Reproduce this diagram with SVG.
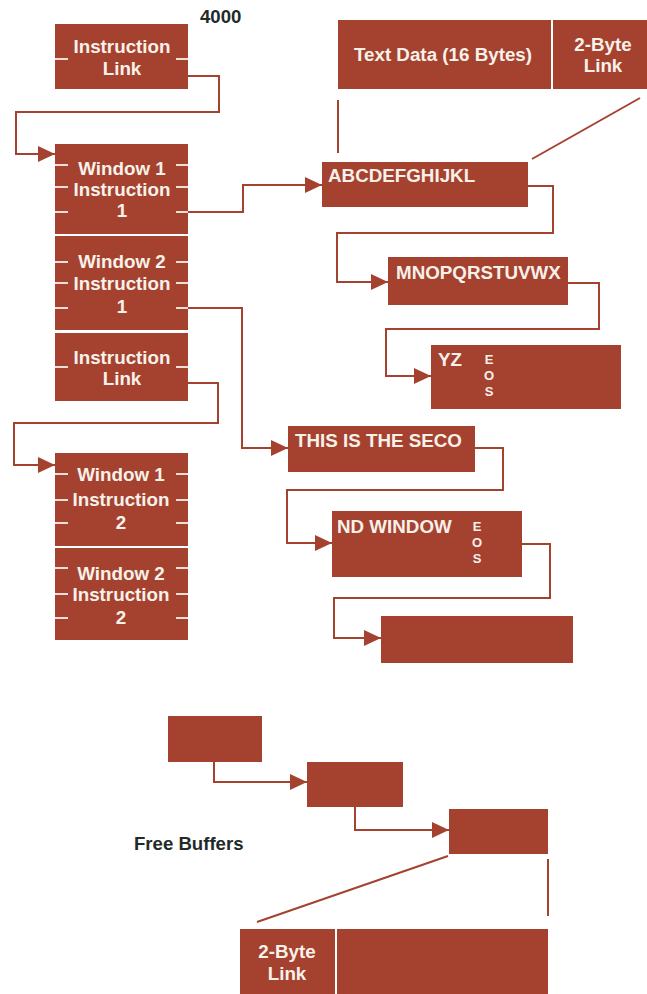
<svg xmlns="http://www.w3.org/2000/svg" width="647" height="994" viewBox="0 0 647 994">
<style>
.box{fill:#a5422f}
.t{font-family:"Liberation Sans",Arial,sans-serif;font-weight:bold;font-size:18.8px;fill:#f7f1ea}
.c{text-anchor:middle}
.eos{font-family:"Liberation Sans",Arial,sans-serif;font-weight:bold;font-size:13px;fill:#f7f1ea;text-anchor:middle}
.dark{font-family:"Liberation Sans",Arial,sans-serif;font-weight:bold;font-size:18.6px;fill:#1f2a2a}
.tick{stroke:#f7f1ea;stroke-width:1.8}
.ln{fill:none;stroke:#a5422f;stroke-width:2}
</style>
<defs>
<marker id="ah" markerUnits="userSpaceOnUse" markerWidth="18" markerHeight="18" refX="17" refY="8" orient="auto">
<path d="M0,0 L17,8 L0,16 Z" fill="#a5422f"/>
</marker>
</defs>
<rect width="647" height="994" fill="#ffffff"/>
<text class="dark" x="200" y="23">4000</text>
<g id="instr-link-1">
<rect class="box" x="55" y="24" width="133" height="65"/>
<line class="tick" x1="55" y1="59" x2="68" y2="59"/><line class="tick" x1="176" y1="59" x2="188" y2="59"/>
<text class="t c" x="122" y="53">Instruction</text>
<text class="t c" x="122" y="75">Link</text>
</g>
<g id="w1i1">
<rect class="box" x="55" y="144" width="133" height="90"/>
<line class="tick" x1="55" y1="165" x2="68" y2="165"/><line class="tick" x1="176" y1="165" x2="188" y2="165"/>
<line class="tick" x1="55" y1="187" x2="68" y2="187"/><line class="tick" x1="176" y1="187" x2="188" y2="187"/>
<line class="tick" x1="55" y1="212" x2="68" y2="212"/><line class="tick" x1="176" y1="212" x2="188" y2="212"/>
<text class="t c" x="122" y="175">Window 1</text>
<text class="t c" x="122" y="196">Instruction</text>
<text class="t c" x="122" y="217">1</text>
</g>
<g id="w2i1">
<rect class="box" x="55" y="236" width="133" height="94"/>
<line class="tick" x1="55" y1="262" x2="68" y2="262"/><line class="tick" x1="176" y1="262" x2="188" y2="262"/>
<line class="tick" x1="55" y1="283" x2="68" y2="283"/><line class="tick" x1="176" y1="283" x2="188" y2="283"/>
<line class="tick" x1="55" y1="308" x2="68" y2="308"/><line class="tick" x1="176" y1="308" x2="188" y2="308"/>
<text class="t c" x="122" y="268">Window 2</text>
<text class="t c" x="122" y="290">Instruction</text>
<text class="t c" x="122" y="313">1</text>
</g>
<g id="instr-link-2">
<rect class="box" x="55" y="333" width="133" height="68"/>
<line class="tick" x1="55" y1="367" x2="68" y2="367"/><line class="tick" x1="176" y1="367" x2="188" y2="367"/>
<text class="t c" x="122" y="364">Instruction</text>
<text class="t c" x="122" y="385">Link</text>
</g>
<g id="w1i2">
<rect class="box" x="55" y="453" width="133" height="93"/>
<line class="tick" x1="55" y1="474" x2="68" y2="474"/><line class="tick" x1="176" y1="474" x2="188" y2="474"/>
<line class="tick" x1="55" y1="500" x2="68" y2="500"/><line class="tick" x1="176" y1="500" x2="188" y2="500"/>
<line class="tick" x1="55" y1="523" x2="68" y2="523"/><line class="tick" x1="176" y1="523" x2="188" y2="523"/>
<text class="t c" x="121" y="481">Window 1</text>
<text class="t c" x="121" y="506">Instruction</text>
<text class="t c" x="121" y="529">2</text>
</g>
<g id="w2i2">
<rect class="box" x="55" y="548" width="133" height="92"/>
<line class="tick" x1="55" y1="568" x2="68" y2="568"/><line class="tick" x1="176" y1="568" x2="188" y2="568"/>
<line class="tick" x1="55" y1="594" x2="68" y2="594"/><line class="tick" x1="176" y1="594" x2="188" y2="594"/>
<line class="tick" x1="55" y1="618" x2="68" y2="618"/><line class="tick" x1="176" y1="618" x2="188" y2="618"/>
<text class="t c" x="121" y="580">Window 2</text>
<text class="t c" x="121" y="601">Instruction</text>
<text class="t c" x="121" y="624">2</text>
</g>
<g id="text-data">
<rect class="box" x="338" y="20" width="213" height="69"/>
<text class="t c" x="443" y="61">Text Data (16 Bytes)</text>
</g>
<g id="link-top">
<rect class="box" x="553" y="20" width="94" height="69"/>
<text class="t c" x="603" y="51">2-Byte</text>
<text class="t c" x="603" y="72">Link</text>
</g>
<g id="buf-abc">
<rect class="box" x="322" y="162" width="206" height="45"/>
<text class="t" x="328" y="182">ABCDEFGHIJKL</text>
</g>
<g id="buf-mno">
<rect class="box" x="388" y="257" width="180" height="48"/>
<text class="t" x="396" y="279">MNOPQRSTUVWX</text>
</g>
<g id="buf-yz">
<rect class="box" x="431" y="345" width="190" height="64"/>
<text class="t" x="438" y="366">YZ</text>
<text class="eos" x="489" y="364">E</text>
<text class="eos" x="489" y="380">O</text>
<text class="eos" x="489" y="396">S</text>
</g>
<g id="buf-this">
<rect class="box" x="288" y="426" width="187" height="46"/>
<text class="t" x="295" y="447">THIS IS THE SECO</text>
</g>
<g id="buf-nd">
<rect class="box" x="332" y="511" width="190" height="66"/>
<text class="t" x="337" y="533">ND WINDOW</text>
<text class="eos" x="477" y="531">E</text>
<text class="eos" x="477" y="547">O</text>
<text class="eos" x="477" y="563">S</text>
</g>
<g id="buf-empty">
<rect class="box" x="381" y="616" width="192" height="47"/>
</g>
<g id="free-1"><rect class="box" x="168" y="716" width="94" height="46"/></g>
<g id="free-2"><rect class="box" x="307" y="762" width="96" height="45"/></g>
<g id="free-3"><rect class="box" x="449" y="809" width="99" height="45"/></g>
<text class="dark" x="134" y="850">Free Buffers</text>
<g id="link-bottom">
<rect class="box" x="240" y="929" width="95" height="65"/>
<text class="t c" x="287" y="958">2-Byte</text>
<text class="t c" x="287" y="980">Link</text>
</g>
<g id="data-bottom"><rect class="box" x="337" y="929" width="211" height="65"/></g>
<g id="connectors">
<path class="ln" d="M188,76 H219 V112 H16 V154 H55" marker-end="url(#ah)"/>
<path class="ln" d="M188,212 H243 V185 H322" marker-end="url(#ah)"/>
<path class="ln" d="M188,308 H242 V448 H288" marker-end="url(#ah)"/>
<path class="ln" d="M188,383 H218 V423 H14 V465 H55" marker-end="url(#ah)"/>
<path class="ln" d="M528,186 H553 V233 H337 V282 H388" marker-end="url(#ah)"/>
<path class="ln" d="M568,283 H599 V329 H386 V376 H431" marker-end="url(#ah)"/>
<path class="ln" d="M475,448 H503 V490 H287 V543 H332" marker-end="url(#ah)"/>
<path class="ln" d="M522,544 H550 V598 H334 V638 H381" marker-end="url(#ah)"/>
<path class="ln" d="M214,762 V782 H307" marker-end="url(#ah)"/>
<path class="ln" d="M355,807 V830 H449" marker-end="url(#ah)"/>
<line class="ln" x1="338" y1="100" x2="338" y2="153"/>
<line class="ln" x1="640" y1="98" x2="532" y2="159"/>
<line class="ln" x1="448" y1="856" x2="257" y2="922"/>
<line class="ln" x1="548" y1="859" x2="548" y2="916"/>
</g>
</svg>
